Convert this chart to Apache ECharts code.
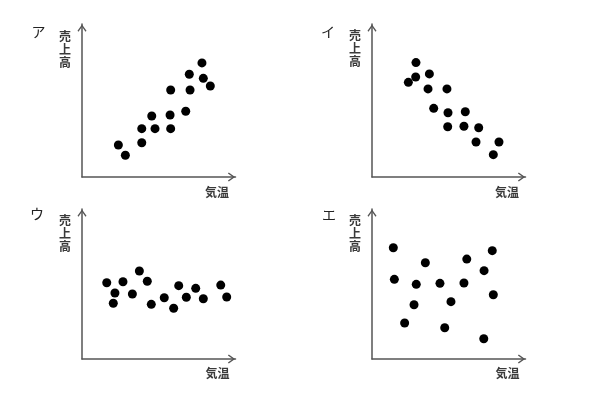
<!DOCTYPE html>
<html><head><meta charset="utf-8">
<script src="https://cdn.jsdelivr.net/npm/echarts@6/dist/echarts.min.js"></script>
<style>html,body{margin:0;padding:0;background:#fff}#c{width:603px;height:416px}</style>
</head><body><div id="c"></div>
<script>
// Panel labels and axis names
const panelLabels = ['ア', 'イ', 'ウ', 'エ'];
const yName = '売上高';
const xName = '気温';
// Scatter data (気温, 売上高) in relative units 0-100
const dataA = [[24.4,21.8],[29.1,14.8],[40.1,32.9],[40.1,23.3],[46.8,41.5],[49.0,32.9],[59.5,59.2],[59.1,42.2],[59.5,32.9],[69.6,44.7],[72.0,69.9],[72.5,59.2],[80.5,77.6],[81.4,67.1],[86.1,61.9]];
const dataI = [[29.5,77.8],[24.4,64.4],[29.3,68.0],[38.5,70.1],[37.6,59.9],[50.3,59.9],[41.4,46.7],[51.0,43.7],[62.6,44.4],[50.8,34.2],[61.7,34.5],[71.6,33.5],[69.8,23.8],[85.2,23.8],[81.4,15.2]];
const dataU = [[16.6,51.9],[22.1,44.9],[21.0,37.9],[27.5,52.6],[33.8,44.2],[38.5,59.9],[43.8,52.9],[46.5,37.2],[55.2,41.7],[61.5,34.5],[64.9,49.9],[70.0,42.0],[76.3,48.1],[81.4,41.0],[93.1,50.3],[97.1,42.2]];
const dataE = [[14.3,75.7],[15.0,54.2],[21.9,24.5],[28.2,36.9],[29.7,50.8],[35.8,65.5],[45.6,51.5],[48.8,21.3],[53.0,39.0],[61.7,51.7],[63.6,68.0],[75.2,60.1],[75.0,13.8],[80.7,73.7],[81.4,43.7]];
const allData = [dataA, dataI, dataU, dataE];

const grids = [
  {left: 82, top: 24.1, width: 153.5, height: 152.9},
  {left: 372, top: 24.1, width: 153.5, height: 152.9},
  {left: 82, top: 209.1, width: 153.5, height: 149.9},
  {left: 372, top: 209.1, width: 153.5, height: 149.9}
];
const yMax = [104, 104, 102, 102];
const axisColor = '#555';
const arrowPath = 'path://M5,0 L10,7 L8.9,8 L5,2.6 L1.1,8 L0,7 Z';
const axisLine = {show: true, lineStyle: {color: axisColor, width: 1.5}, symbol: ['none', arrowPath], symbolSize: [9, 8], symbolOffset: [0, -4]};

const xAxes = grids.map((g, i) => ({type: 'value', gridIndex: i, min: 0, max: 103, axisLine: axisLine, axisTick: {show: false}, axisLabel: {show: false}, splitLine: {show: false}}));
const yAxes = grids.map((g, i) => ({type: 'value', gridIndex: i, min: 0, max: yMax[i], axisLine: axisLine, axisTick: {show: false}, axisLabel: {show: false}, splitLine: {show: false}}));
const series = allData.map((d, i) => ({type: 'scatter', xAxisIndex: i, yAxisIndex: i, data: d, symbolSize: 9, itemStyle: {color: '#000', opacity: 1}, silent: true}));

const font = '"Noto Sans CJK JP", sans-serif';
const txt = (x, y, text, size, extra) => Object.assign({type: 'text', x: x, y: y, style: {text: text, fontFamily: font, fontSize: size, fontWeight: 'bold', fill: '#3a3a3a', align: 'center', verticalAlign: 'middle'}}, extra || {});
const labelPos = [[38.5, 32], [328, 32], [37, 214], [329, 215]];
const yNamePos = [[65, 49], [355, 48], [65, 233], [355, 233]];
const xNamePos = [[217, 192], [507, 192], [217.5, 373], [507.5, 373]];
const graphic = [];
for (let i = 0; i < 4; i++) {
  const p = txt(labelPos[i][0], labelPos[i][1], panelLabels[i], 14);
  p.style.fontWeight = 'normal';
  p.style.fill = '#222';
  graphic.push(p);
  const g = txt(yNamePos[i][0], yNamePos[i][1], yName.split('').join('\n'), 12);
  g.style.lineHeight = 13;
  graphic.push(g);
  graphic.push(txt(xNamePos[i][0], xNamePos[i][1], xName, 12));
}

const chart = echarts.init(document.getElementById('c'));
chart.setOption({animation: false, grid: grids, xAxis: xAxes, yAxis: yAxes, series: series, graphic: graphic});
</script></body></html>
